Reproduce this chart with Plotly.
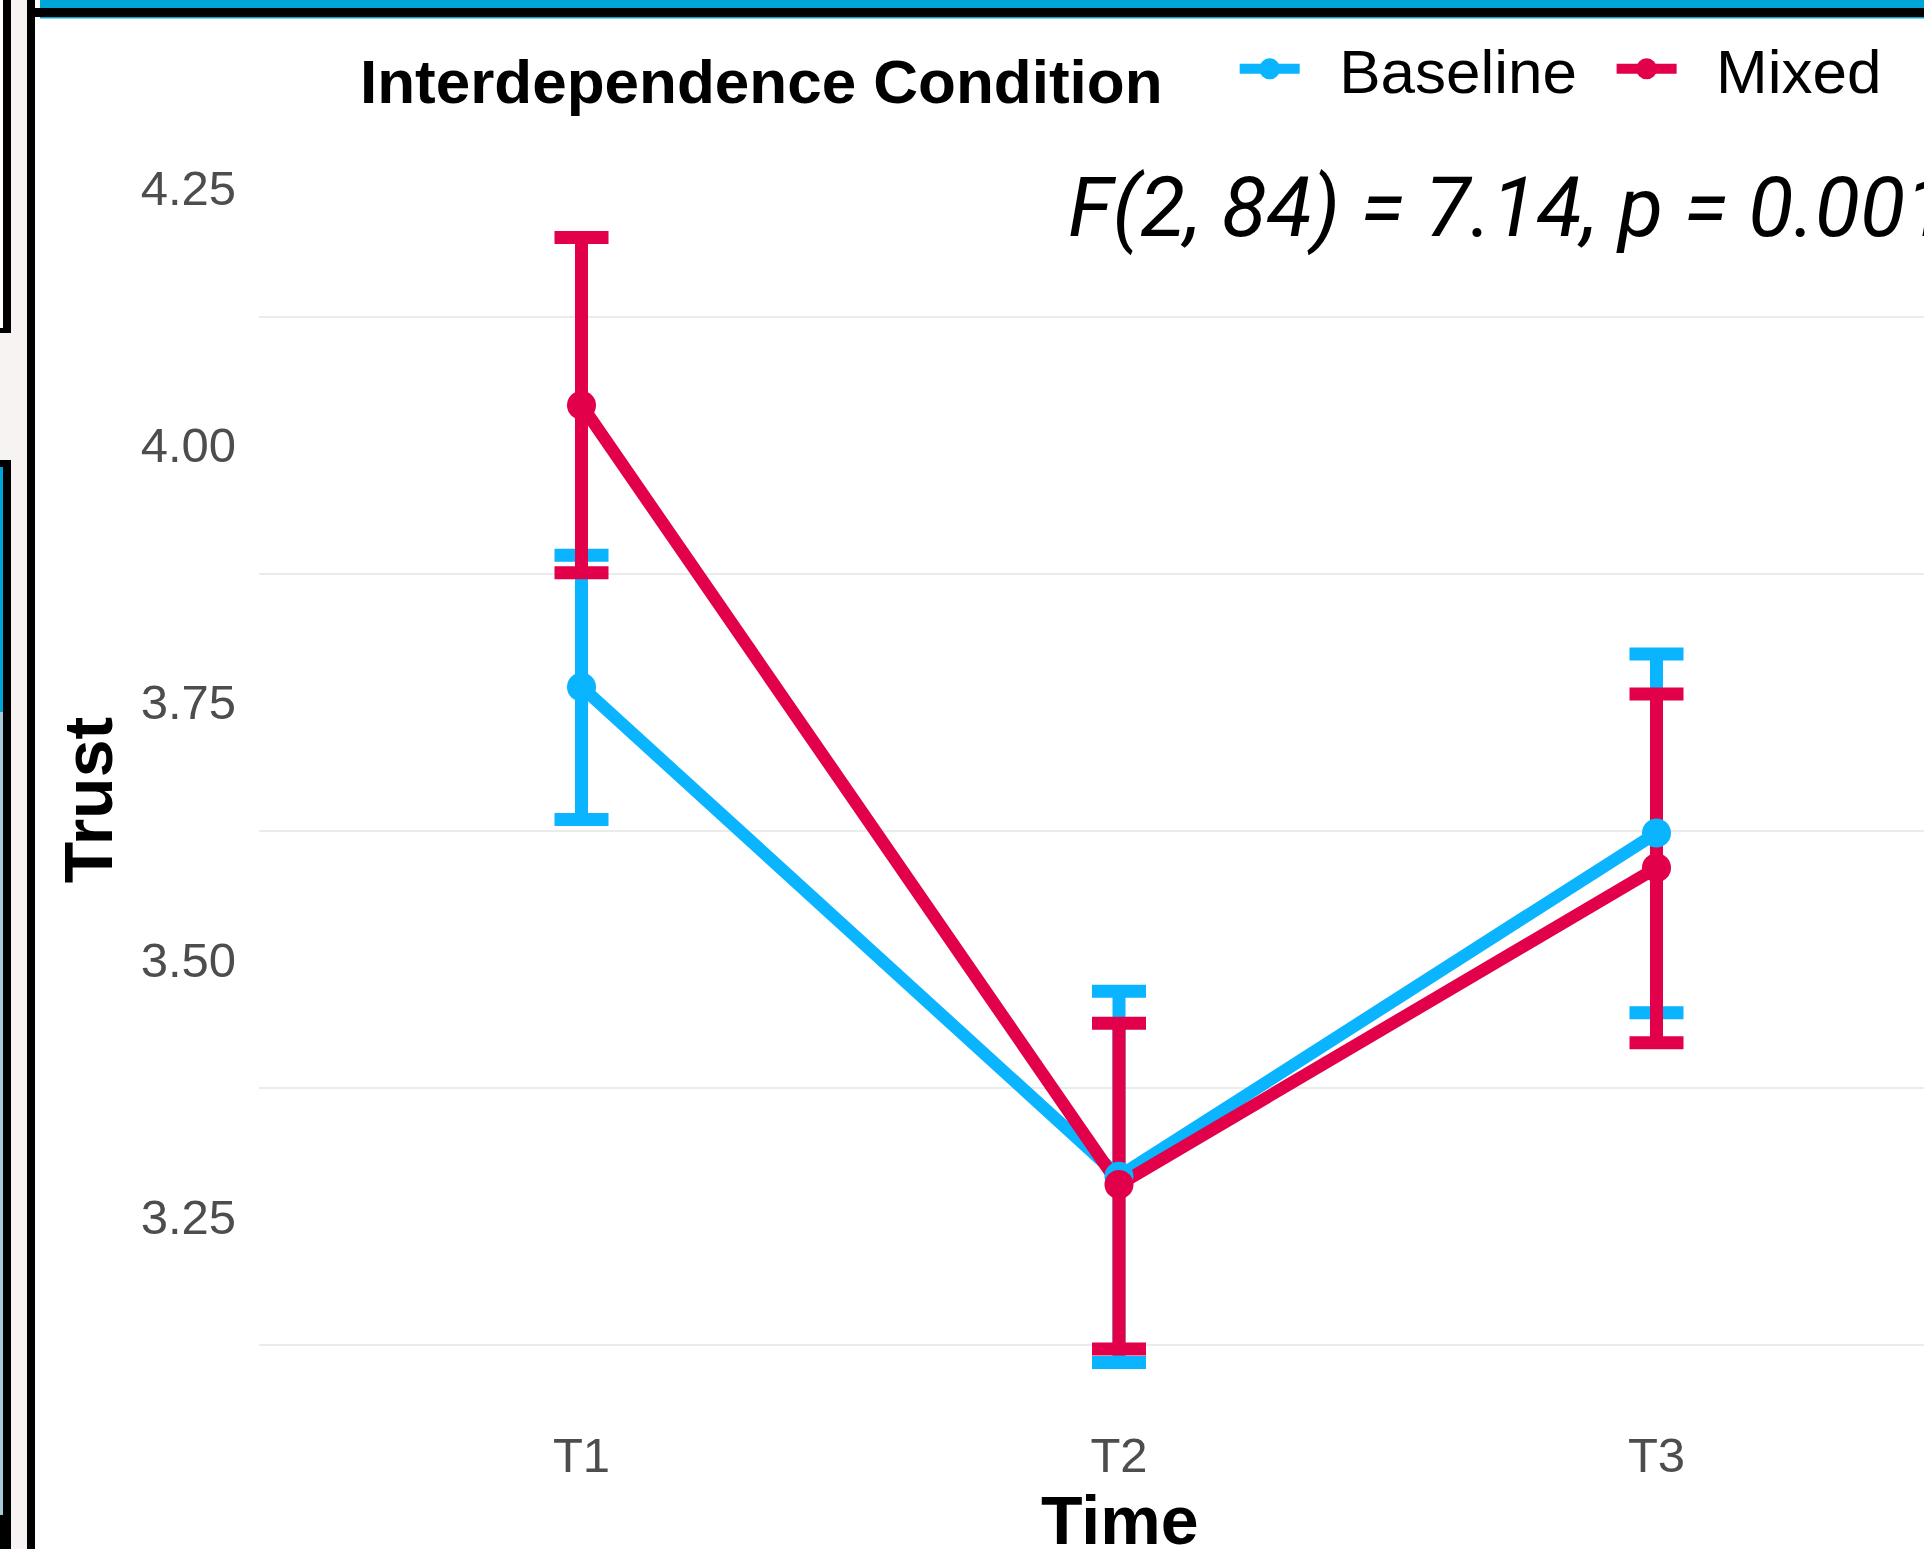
import plotly.graph_objects as go

# ---- data ----
time = ["T1", "T2", "T3"]
conditions = ["Baseline", "Mixed"]
baseline_mean = [3.765, 3.289, 3.623]
baseline_upper = [3.893, 3.469, 3.797]
baseline_lower = [3.636, 3.108, 3.448]
mixed_mean = [4.039, 3.281, 3.589]
mixed_upper = [4.202, 3.438, 3.758]
mixed_lower = [3.876, 3.121, 3.419]
y_tickvals = [3.25, 3.50, 3.75, 4.00, 4.25]
y_ticktext = ["3.25", "3.50", "3.75", "4.00", "4.25"]
y_gridvals = [3.125, 3.375, 3.625, 3.875, 4.125]
stat_text = "F(2, 84) = 7.14, p = 0.001"
legend_title = "Interdependence Condition"
x_title = "Time"
y_title = "Trust"

colors = {"Baseline": "#0BB4FE", "Mixed": "#E3004A"}
series = {
    "Baseline": (baseline_mean, baseline_upper, baseline_lower),
    "Mixed": (mixed_mean, mixed_upper, mixed_lower),
}

# ---- layout geometry ----
W, H = 1924, 1549
L, R, T, B = 259, 0, 181, 130
PW, PH = W - L - R, H - T - B
NB = "\u00a0"
THIN = "\u2009"


def px(x):
    return (x - L) / PW


def py(y):
    return (T + PH - y) / PH


FONT = "Liberation Sans, Arial, Helvetica, sans-serif"
LW = 12.5
MS = 29

fig = go.Figure()

# error bars
for name in conditions:
    m, up, lo = series[name]
    fig.add_trace(go.Scatter(
        x=time, y=m, mode="markers",
        marker=dict(size=1, color=colors[name], opacity=0),
        error_y=dict(type="data", symmetric=False,
                     array=[u - v for u, v in zip(up, m)],
                     arrayminus=[v - l for v, l in zip(m, lo)],
                     color=colors[name], thickness=13, width=27),
        showlegend=False, hoverinfo="skip"))

# lines
for name in conditions:
    m, up, lo = series[name]
    fig.add_trace(go.Scatter(
        x=time, y=m, mode="lines",
        line=dict(color=colors[name], width=LW),
        showlegend=False, hoverinfo="skip"))

# points
for name in conditions:
    m, up, lo = series[name]
    fig.add_trace(go.Scatter(
        x=time, y=m, mode="markers", name=name,
        marker=dict(color=colors[name], size=MS),
        showlegend=False))

# legend entries
legend_labels = {"Baseline": NB * 2 + "Baseline" + NB + THIN, "Mixed": NB * 2 + "Mixed"}
for name in conditions:
    fig.add_trace(go.Scatter(
        x=[None], y=[None], mode="lines+markers", name=legend_labels[name],
        line=dict(color=colors[name], width=LW),
        marker=dict(color=colors[name], size=MS,
                    line=dict(color=colors[name], width=5))))

fig.add_annotation(
    x=0.9014, y=4.231, xref="x", yref="y", text=stat_text,
    showarrow=False, xanchor="left", yanchor="middle",
    font=dict(family="Roboto, sans-serif", size=83, color="black", style="italic"))

# x-axis title (ggplot centres it on the full, cropped panel, i.e. on T2)
fig.add_annotation(
    x="T2", y=py(1520), xref="x", yref="paper", text="<b>" + x_title + "</b>",
    showarrow=False, xanchor="center", yanchor="middle",
    font=dict(family=FONT, size=68, color="black"))

# decorative frame pieces from the screenshot
shapes = []


def rect(x0, y0, x1, y1, color):
    shapes.append(dict(type="rect", xref="paper", yref="paper",
                       x0=px(x0), x1=px(x1), y0=py(y1), y1=py(y0),
                       fillcolor=color, line=dict(width=0), layer="above"))


rect(0, 0, 27, H, "#F8F3F3")
rect(0, 0, 11, 333, "black")
rect(0, 0, 3, 328, "white")
rect(0, 460, 11, H, "black")
rect(0, 467, 3, 712, "#00A5D8")
rect(0, 712, 3, 1515, "#A8C9D9")
rect(27, 0, 35, H, "black")
rect(32, 8, W, 17, "black")
rect(40, 0, W, 8, "#00A5D8")
rect(40, 17, W, 18.5, "#00A5D8")

fig.update_layout(
    width=W, height=H,
    margin=dict(l=L, r=R, t=T, b=B, autoexpand=False),
    paper_bgcolor="white", plot_bgcolor="white",
    font=dict(family=FONT, color="black"),
    shapes=shapes,
    showlegend=True,
    legend=dict(
        orientation="h", x=px(358), xanchor="left", y=py(69), yanchor="middle",
        title=dict(text="<b>" + legend_title + "</b>" + NB * 3 + THIN, side="left",
                   font=dict(size=62, family=FONT, color="black")),
        font=dict(size=62, family=FONT, color="black"),
        bgcolor="rgba(0,0,0,0)", itemwidth=60,
    ),
    xaxis=dict(
        type="category", range=[-0.6, -0.6 + PW / 537.5],
        showgrid=False, zeroline=False, showline=False, ticks="",
        tickfont=dict(size=49, color="#4D4D4D", family=FONT),
        ticklabelstandoff=3,
    ),
    yaxis=dict(
        range=[3.053, 4.257],
        tickmode="array", tickvals=y_tickvals, ticktext=y_ticktext,
        showgrid=False, zeroline=False, showline=False, ticks="",
        tickfont=dict(size=49, color="#4D4D4D", family=FONT),
        ticklabelstandoff=22,
        minor=dict(tickmode="array", tickvals=y_gridvals, showgrid=True,
                   gridcolor="#EBEBEB", gridwidth=2, ticks=""),
        title=dict(text="<b>" + y_title + "</b>", font=dict(size=68, family=FONT, color="black"),
                   standoff=5),
    ),
)

fig.write_html("out.html", config={"displayModeBar": False},
               post_script="document.body.style.margin='0';")
